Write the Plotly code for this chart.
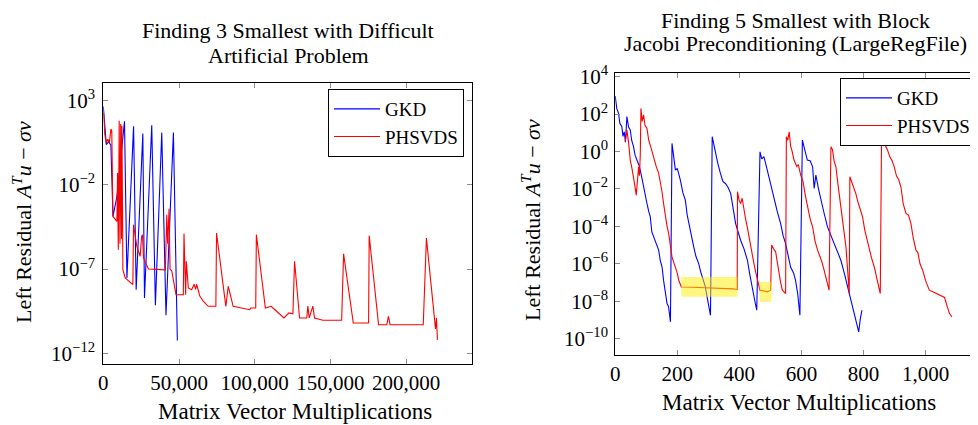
import numpy as np
import plotly.graph_objects as go

# left panel: difficult artificial problem (x = matvecs, y = log10 residual)
gkd_l_x = [0, 1000, 2000, 3500, 5000, 6400, 9000, 14000, 15600, 20000, 21700, 26100, 27200,
           32000, 34400, 38600, 41400, 46300, 48900]
gkd_l_y = [2.64, 1.2, 0.37, 0.55, 0.35, -3.88, -2.7, 1.76, -7.53, 1.46, -8.22, 1.03, -8.71,
           1.52, -9.15, 1.10, -9.74, 1.10, -11.23]

phs_l_x = [220, 1000, 1970, 3000, 4000, 5040, 5600, 6360, 9000, 9400, 9900, 10500, 11000,
           11500, 12000, 12300, 12700, 12940, 14470, 19520, 19960, 22150, 24340, 25300, 25880,
           26540, 29820, 41000, 41890, 42500, 43420, 44080, 45180, 48030, 52850, 53290, 54390,
           54830, 56140, 58340, 60000, 61000, 61620, 63820, 66010, 69300, 74340, 74780, 80920,
           82500, 85750, 96710, 97370, 100660, 101100, 107020, 110970, 112060, 119300, 122590,
           125220, 126320, 129610, 134400, 135100, 136000, 138400, 139500, 145020, 157400,
           158700, 165100, 175200, 175600, 181800, 187200, 188300, 189400, 211300, 213400,
           219400, 220000, 220700]
phs_l_y = [2.25, 1.0, 0.47, 0.7, 0.5, 1.30, 1.2, -3.88, -4.17, -1.3, -5.85, 1.8, -5.5,
           1.6, -5.2, 1.5, -3.5, -7.04, -7.53, -7.92, -4.37, -5.65, -6.25, -5.06, -4.97,
           -6.34, -7.0, -7.05, -3.78, -5.5, -3.42, -7.0, -7.1, -8.52, -8.52, -4.9, -8.52,
           -6.54, -8.12, -8.22, -7.9, -8.2, -7.9, -8.62, -8.91, -9.21, -9.21, -4.86, -9.21,
           -8.02, -9.21, -9.41, -9.31, -9.31, -4.96, -9.31, -9.21, -9.31, -9.9, -9.6,
           -9.65, -6.54, -9.9, -9.9, -9.2, -9.9, -9.2, -9.9, -10.04, -10.04,
           -6.1, -10.2, -10.2, -5.02, -10.3, -10.3, -9.8, -10.3, -10.3, -5.16,
           -10.55, -9.9, -11.2]

# right panel: block Jacobi preconditioning (LargeRegFile)
gkd_r_x = [0, 5, 10.8, 15, 21.5, 25, 29, 33, 37.7, 43, 48.5, 53, 59.2, 64, 70, 78, 86.2, 94,
           102.4, 108, 113, 118, 124, 130, 140, 145, 151, 156, 161.5, 167, 172, 178, 183, 188,
           194, 200, 210, 218, 226, 232, 237, 245, 253, 260, 269, 275, 280, 290, 296, 302, 307,
           312.5, 318, 323, 330, 339, 347, 355, 363, 372, 380, 388, 396, 404, 415, 426, 434,
           442, 450, 456, 466.5, 472, 479, 487, 495, 503, 511, 522, 533, 541, 549, 557, 565,
           575, 581, 588, 595, 603, 611, 619, 628, 636, 641, 646.5, 655, 662.5, 673, 684, 695,
           705.5, 716, 727, 738, 749, 757, 765, 775, 784.5, 790, 795]
gkd_r_y = [2.96, 2.3, 2.04, 1.5, 1.32, 0.8, 1.05, 0.5, 1.86, 1.3, 1.15, 0.6, 0.25, -0.2, -0.46,
           -0.8, -1.44, -2.0, -2.78, -3.2, -3.49, -4.3, -4.56, -4.8, -5.27, -5.8, -6.17, -6.9,
           -7.59, -8.12, -8.3, -9.1, 0.43, -0.3, -1.0, -0.9, -1.53, -2.2, -2.6, -3.4, -3.85,
           -4.5, -5.1, -5.6, -5.99, -6.4, -6.7, -7.2, -7.77, -8.3, -8.75, 0.79, 0.3, 0.07,
           -0.6, -1.17, -1.6, -1.71, -1.9, -2.24, -3.0, -3.85, -4.3, -4.74, -5.2, -5.81, -6.6,
           -7.41, -8.0, -8.48, -0.02, -0.4, -0.28, -0.8, -1.35, -2.0, -2.42, -3.2, -3.85, -4.5,
           -4.92, -5.6, -6.17, -6.5, -6.88, -7.6, -8.75, 0.61, 0.0, -0.46, -0.5, -0.82, -1.97,
           -1.26, -2.0, -2.6, -3.3, -4.03, -4.5, -4.92, -5.3, -5.81, -6.5, -7.24, -7.7, -8.21,
           -8.9, -9.64, -8.9, -8.48]

phs_r_x = [32.3, 37.7, 43, 48.5, 54, 59.2, 63, 67.8, 72, 75.4, 78, 80.8, 82.9, 87, 91.5, 96,
           102.3, 108, 113, 118, 123.9, 132, 140, 145, 150.8, 156, 161.5, 167, 172.3, 177, 183,
           188, 193.9, 200, 204.6, 213.2, 250, 300, 350, 380, 393, 394, 399, 404, 409, 414.6,
           420, 425.4, 431, 436, 441, 447, 452, 457.7, 466.3, 480, 490, 500.8, 504, 510, 517,
           522, 527.7, 533, 538.5, 545, 549, 551.4, 556, 560.5, 565, 570, 576, 585, 590, 597.6,
           605, 612, 619, 628, 636, 644, 652, 660, 666, 673, 680, 689, 695, 700, 705, 711, 718,
           727, 733, 738, 743.5, 749, 754, 756, 762, 768, 775, 782, 790, 797, 804, 811, 818,
           826, 834.6, 840, 846, 854, 858, 862, 868, 877.5, 885, 892, 899, 906, 913, 920.5, 928,
           936.6, 945, 952.8, 960, 969, 975, 982, 990.6, 1000, 1012, 1030, 1050, 1061, 1070,
           1077, 1085]
phs_r_y = [0.52, 1.14, 0.5, -0.46, -0.9, -1.35, -1.8, -2.33, -1.5, -0.82, -1.3, -0.19, 2.3,
           1.6, 1.95, 1.4, 1.23, 0.6, 0.34, 0.0, -0.28, -0.8, -1.17, -1.6, -2.15, -2.8, -3.49,
           -4.0, -4.38, -5.0, -5.63, -5.9, -6.17, -6.5, -6.88, -7.24, -7.25, -7.27, -7.3,
           -7.34, -7.37, -2.15, -2.6, -2.78, -2.5, -3.13, -3.6, -4.03, -4.6, -5.1, -5.5, -5.99,
           -6.4, -6.88, -7.41, -7.45, -7.5, -7.41, -5.0, -5.2, -5.36, -5.9, -6.52, -7.0, -7.41,
           -7.5, -7.59, 0.79, 0.6, 1.05, 0.3, 0.0, -0.46, -0.8, -0.7, -1.26, -1.6, -2.3, -2.96,
           -3.6, -4.03, -4.8, -5.27, -5.6, -5.9, -6.34, -6.8, -7.41, 0.25, 0.1, -0.5, -0.82,
           -1.8, -3.13, -3.8, -4.4, -5.1, -6.3, -7.59, -1.35, -1.6, -1.9, -2.24, -2.7, -3.1,
           -3.49, -4.2, -4.7, -5.27, -5.7, -6.17, -6.5, -7.0, -7.59, 0.61, 0.3, 0.4, 0.07, -0.3,
           -0.5, -0.82, -1.3, -1.5, -1.9, -2.8, -3.31, -3.4, -3.85, -4.6, -5.27, -5.4, -6.0,
           -6.34, -6.9, -7.41, -7.55, -7.7, -7.8, -8.3, -8.66, -8.84]

# stagnation regions highlighted in yellow (x0, x1, log y0, log y1)
highlights = [(213, 394, -7.76, -6.7), (465, 504, -8.03, -6.96)]

FONT = "Liberation Serif"
BLUE = "#0000ff"
RED = "#ff0000"

# the page body has an 8px margin, so the figure is shrunk by that and
# positions are given in window pixels and converted here
W, H = 970, 417


def px(x):
    return (x - 8) / W


def py(y):
    return 1 - (y - 8) / H


fig = go.Figure()
fig.add_trace(go.Scatter(x=gkd_l_x, y=np.power(10.0, gkd_l_y), mode="lines", name="GKD",
                         line=dict(color=BLUE, width=1.1), xaxis="x", yaxis="y", legend="legend"))
fig.add_trace(go.Scatter(x=phs_l_x, y=np.power(10.0, phs_l_y), mode="lines", name="PHSVDS",
                         line=dict(color=RED, width=1.1), xaxis="x", yaxis="y", legend="legend"))
fig.add_trace(go.Scatter(x=gkd_r_x, y=np.power(10.0, gkd_r_y), mode="lines", name="GKD",
                         line=dict(color=BLUE, width=1.1), xaxis="x2", yaxis="y2", legend="legend2"))
fig.add_trace(go.Scatter(x=phs_r_x, y=np.power(10.0, phs_r_y), mode="lines", name="PHSVDS",
                         line=dict(color=RED, width=1.1), xaxis="x2", yaxis="y2", legend="legend2"))

for x0, x1, y0, y1 in highlights:
    fig.add_shape(type="rect", xref="x2", yref="y2", x0=x0, x1=x1, y0=10 ** y0, y1=10 ** y1,
                  fillcolor="#ffee00", opacity=0.5, line_width=0, layer="above")


def sup(e):
    return "10<sup>%s</sup>" % str(e).replace("-", "−")


axis_common = dict(showgrid=False, zeroline=False, showline=True, linecolor="black", linewidth=1,
                   mirror="ticks", ticks="inside", ticklen=5, tickwidth=1, tickcolor="#8c8c8c",
                   automargin=False, tickfont=dict(family=FONT, size=21, color="black"))

left_exp = [3, -2, -7, -12]
right_exp = [4, 2, 0, -2, -4, -6, -8, -10]

legend_common = dict(xanchor="right", yanchor="top", bgcolor="white", bordercolor="black",
                     borderwidth=1, itemwidth=46, font=dict(family=FONT, size=19))

fig.update_layout(
    width=W, height=H,
    margin=dict(l=0, r=0, t=0, b=0, autoexpand=False),
    plot_bgcolor="white", paper_bgcolor="white",
    font=dict(family=FONT, size=21, color="black"),
    xaxis=dict(domain=[px(103.3), px(472)], range=[0, 243500],
               tickvals=[0, 50000, 100000, 150000, 200000], tickformat=",d", anchor="y", **axis_common),
    yaxis=dict(domain=[py(364), py(82.7)], type="log", range=[-12.63, 4.05],
               tickvals=[10.0 ** e for e in left_exp], ticktext=[sup(e) for e in left_exp],
               ticklabelstandoff=3, anchor="x", **axis_common),
    xaxis2=dict(domain=[px(615.2), px(976.5)], range=[0, 1164],
                tickvals=[0, 200, 400, 600, 800, 1000], tickformat=",d", anchor="y2", **axis_common),
    yaxis2=dict(domain=[py(355), py(73)], type="log", range=[-10.87, 4.19],
                tickvals=[10.0 ** e for e in right_exp], ticktext=[sup(e) for e in right_exp],
                ticklabelstandoff=2, anchor="x2", **axis_common),
    legend=dict(x=px(464), y=py(89), **legend_common),
    legend2=dict(x=px(976), y=py(78), **legend_common),
)

ylab = "Left Residual <i>A</i><sup><i>T</i></sup><i>u</i> − <i>σv</i>"
notes = [
    (288, 30, "Finding 3 Smallest with Difficult", 0, 22),
    (288, 56, "Artificial Problem", 0, 22),
    (795, 20, "Finding 5 Smallest with Block", 0, 22),
    (795, 43, "Jacobi Preconditioning (LargeRegFile)", 0, 22),
    (295, 411, "Matrix Vector Multiplications", 0, 23),
    (799, 402, "Matrix Vector Multiplications", 0, 23),
    (22, 222, ylab, -90, 22),
    (531, 220, ylab, -90, 22),
]
for x, y, text, ang, size in notes:
    fig.add_annotation(x=px(x), y=py(y), xref="paper", yref="paper", text=text, showarrow=False,
                       textangle=ang, xanchor="center", yanchor="middle",
                       font=dict(family=FONT, size=size, color="black"))

fig.write_html("out.html")
